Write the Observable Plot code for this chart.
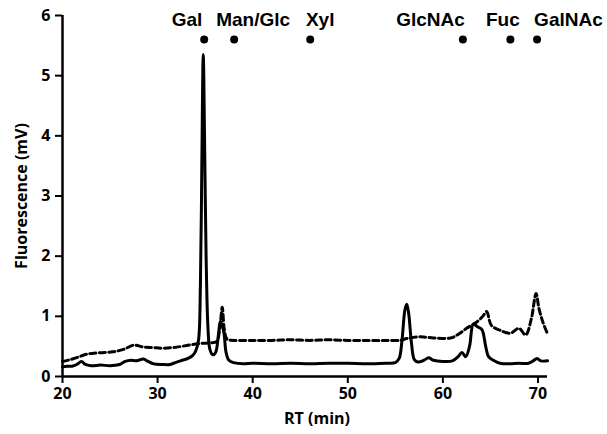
<!DOCTYPE html>
<html><head><meta charset="utf-8">
<script src="https://cdn.jsdelivr.net/npm/d3@7"></script>
<script src="https://cdn.jsdelivr.net/npm/@observablehq/plot@0.6"></script>
<style>body{margin:0;background:#fff}</style>
</head><body><div id="chart"></div>
<script>
// Solid trace (sample)
const rtSolid = [20,20.5,21,21.5,22,22.4,23,24,25,26,26.6,27.2,27.8,28.5,29,29.6,30.5,31.3,32,32.6,33.2,33.7,34.0,34.3,34.5,34.65,34.8,34.95,35.1,35.3,35.5,35.8,36.1,36.4,36.6,36.8,37.0,37.2,37.5,38,39,40,42,44,46,48,50,52,54,55,55.4,55.7,56.0,56.2,56.4,56.7,57.0,57.4,58,58.5,59,60,61,61.6,62,62.4,62.8,63.2,63.6,64.1,64.5,64.8,65.3,66,67,68,69,69.5,69.9,70.3,71];
const fluSolid = [0.16,0.17,0.17,0.2,0.25,0.2,0.18,0.19,0.18,0.2,0.25,0.27,0.26,0.29,0.25,0.21,0.2,0.2,0.24,0.27,0.3,0.35,0.42,0.6,1.5,3.5,5.35,3.8,2.0,0.8,0.45,0.36,0.4,0.7,0.92,0.85,0.7,0.4,0.27,0.23,0.21,0.22,0.21,0.22,0.21,0.22,0.22,0.21,0.22,0.23,0.3,0.6,1.1,1.2,1.05,0.55,0.28,0.24,0.27,0.31,0.27,0.25,0.26,0.33,0.4,0.33,0.5,0.87,0.83,0.78,0.5,0.33,0.27,0.22,0.21,0.22,0.22,0.26,0.3,0.26,0.26];
// Dashed trace
const rtDashed = [20,20.8,21.8,22.5,23.5,24.5,25.3,26.4,27.5,28.5,29.5,30.5,31.5,32.5,33.6,34.6,35.5,36.2,36.5,36.8,37.0,37.3,38,40,42,44,46,48,50,52,54,55.5,56.2,57.6,59,60.8,61.5,62.5,63.6,64.2,64.6,65.1,66,67.1,68,68.7,69.3,69.8,70.1,70.5,71];
const fluDashed = [0.25,0.28,0.33,0.37,0.39,0.4,0.41,0.45,0.52,0.49,0.48,0.47,0.48,0.5,0.53,0.55,0.56,0.58,0.75,1.15,0.8,0.62,0.6,0.6,0.6,0.61,0.6,0.61,0.6,0.6,0.6,0.6,0.63,0.66,0.64,0.64,0.69,0.8,0.91,1.0,1.08,0.85,0.77,0.72,0.8,0.69,0.96,1.38,1.13,0.91,0.71];
// Standard markers
const sugarNames = ["Gal","Man/Glc","Xyl","GlcNAc","Fuc","GalNAc"];
const sugarRT = [34.9,38.05,46.05,62.1,67.1,69.9];
const sugarLabelRT = [33.1,40.05,47.1,58.7,66.3,73.2];
const xTicks = [20,30,40,50,60,70];
const yTicks = [0,1,2,3,4,5,6];

const solid = rtSolid.map((x,i)=>({x, y:fluSolid[i]}));
const dashed = rtDashed.map((x,i)=>({x, y:fluDashed[i]}));
const sugars = sugarNames.map((name,i)=>({name, rt:sugarRT[i], lx:sugarLabelRT[i]}));

const plot = Plot.plot({
  width:607, height:434,
  marginLeft:62, marginRight:60, marginTop:15, marginBottom:58,
  x:{domain:[20,71]},
  y:{domain:[0,6]},
  style:{fontFamily:"'Open Sans', sans-serif", fontWeight:"bold", fontSize:"16px", color:"#000", background:"#fff", overflow:"visible"},
  marks:[
    Plot.axisX({ticks:xTicks, tickFormat:"d", tickSize:7, tickPadding:4, label:null, strokeWidth:2}),
    Plot.axisY({ticks:yTicks, tickFormat:"d", tickSize:7, tickPadding:5, label:"Fluorescence (mV)", labelAnchor:"center", labelOffset:47, labelArrow:false, strokeWidth:2}),
    Plot.text(["RT (min)"], {frameAnchor:"bottom", dx:12, dy:47, fontSize:16, fontWeight:"bold"}),
    Plot.ruleX([20], {y1:0, y2:6, strokeWidth:2.5}),
    Plot.ruleY([0], {strokeWidth:2.5}),
    Plot.line(dashed, {x:"x", y:"y", stroke:"#000", strokeWidth:3, strokeDasharray:"6,3.5", curve:"catmull-rom"}),
    Plot.line(solid, {x:"x", y:"y", stroke:"#000", strokeWidth:3, curve:"catmull-rom"}),
    Plot.dot(sugars, {x:"rt", y:5.6, r:4, fill:"#000", stroke:null}),
    Plot.text(sugars, {x:"lx", y:5.93, text:"name", fontFamily:"'Liberation Sans', Arial, sans-serif", fontSize:19, fontWeight:"bold", lineAnchor:"middle"})
  ]
});
document.getElementById("chart").append(plot);
</script>
</body></html>
